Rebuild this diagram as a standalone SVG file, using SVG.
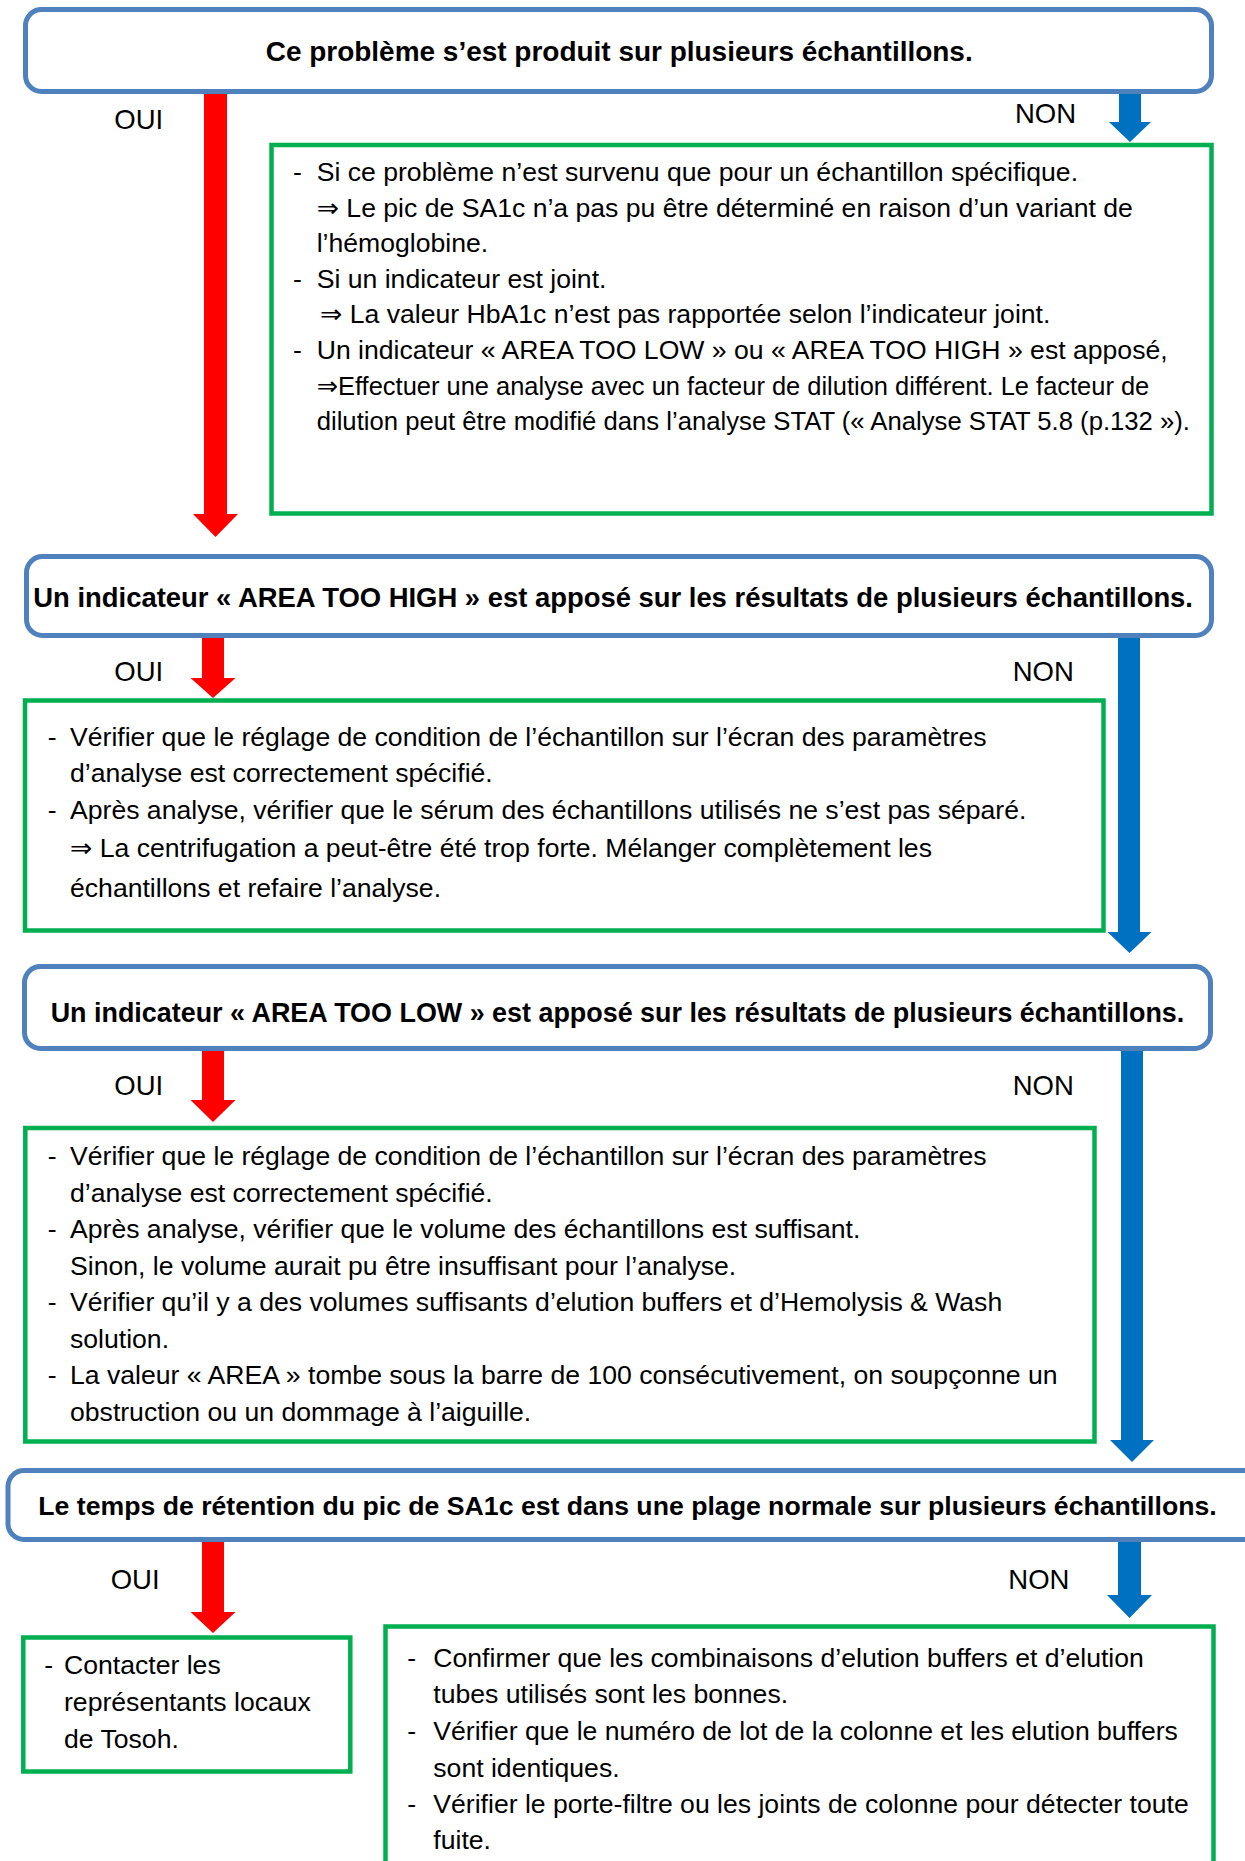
<svg xmlns="http://www.w3.org/2000/svg" width="1245" height="1861" viewBox="0 0 1245 1861">
  <style>
    text { font-family: "Liberation Sans", Arial, "DejaVu Sans", sans-serif; fill: #000; }
    .q { fill: #fff; stroke: #4F81BD; stroke-width: 5; }
    .a { fill: #fff; stroke: #00B050; stroke-width: 4.5; }
    .qt { font-weight: bold; }
    .lb { font-size: 27.5px; }
    .bd { font-size: 26.6px; }
    .yes { fill: #FF0000; }
    .no { fill: #0070C0; }
  </style>

  <rect width="1245" height="1861" fill="#fff"/>

  <!-- decision boxes -->
  <g id="q1">
    <rect class="q" x="25.5" y="9.5" width="1186" height="82" rx="16"/>
    <text class="qt" x="265.7" y="61" font-size="28" textLength="707" lengthAdjust="spacingAndGlyphs">Ce problème s’est produit sur plusieurs échantillons.</text>
  </g>
  <g id="q2">
    <rect class="q" x="26.5" y="556.5" width="1185" height="79" rx="16"/>
    <text class="qt" x="33.3" y="607" font-size="27.4" textLength="1159.7" lengthAdjust="spacingAndGlyphs">Un indicateur « AREA TOO HIGH » est apposé sur les résultats de plusieurs échantillons.</text>
  </g>
  <g id="q3">
    <rect class="q" x="24.5" y="966.5" width="1186" height="82" rx="16"/>
    <text class="qt" x="50.7" y="1022" font-size="26.9" textLength="1133.6" lengthAdjust="spacingAndGlyphs">Un indicateur « AREA TOO LOW » est apposé sur les résultats de plusieurs échantillons.</text>
  </g>
  <g id="q4">
    <rect class="q" x="8" y="1470.5" width="1252" height="69" rx="16"/>
    <text class="qt" x="38.3" y="1515" font-size="26.6" textLength="1178.4" lengthAdjust="spacingAndGlyphs">Le temps de rétention du pic de SA1c est dans une plage normale sur plusieurs échantillons.</text>
  </g>

  <!-- action boxes -->
  <g id="a1">
    <rect class="a" x="271.5" y="145" width="940" height="368.5"/>
    <text class="bd">
      <tspan x="293" y="181">-</tspan><tspan x="316.7" y="181">Si ce problème n’est survenu que pour un échantillon spécifique.</tspan>
      <tspan x="316.7" y="216.6">⇒ Le pic de SA1c n’a pas pu être déterminé en raison d’un variant de</tspan>
      <tspan x="316.7" y="252.2">l’hémoglobine.</tspan>
      <tspan x="293" y="287.8">-</tspan><tspan x="316.7" y="287.8">Si un indicateur est joint.</tspan>
      <tspan x="320" y="323.4">⇒ La valeur HbA1c n’est pas rapportée selon l’indicateur joint.</tspan>
      <tspan x="293" y="359">-</tspan><tspan x="316.7" y="359">Un indicateur « AREA TOO LOW » ou « AREA TOO HIGH » est apposé,</tspan>
    </text>
    <text class="bd" x="316.7" y="394.6" textLength="832.6" lengthAdjust="spacingAndGlyphs">⇒Effectuer une analyse avec un facteur de dilution différent. Le facteur de</text>
    <text class="bd" x="316.7" y="430.2" textLength="873.3" lengthAdjust="spacingAndGlyphs">dilution peut être modifié dans l’analyse STAT (« Analyse STAT 5.8 (p.132 »).</text>
  </g>
  <g id="a2">
    <rect class="a" x="25" y="700.5" width="1078.5" height="230"/>
    <text class="bd">
      <tspan x="47.7" y="746">-</tspan><tspan x="70" y="746">Vérifier que le réglage de condition de l’échantillon sur l’écran des paramètres</tspan>
      <tspan x="70" y="782.3">d’analyse est correctement spécifié.</tspan>
      <tspan x="47.7" y="819">-</tspan><tspan x="70" y="819">Après analyse, vérifier que le sérum des échantillons utilisés ne s’est pas séparé.</tspan>
      <tspan x="70" y="857.3">⇒ La centrifugation a peut-être été trop forte. Mélanger complètement les</tspan>
      <tspan x="70" y="896.7">échantillons et refaire l’analyse.</tspan>
    </text>
  </g>
  <g id="a3">
    <rect class="a" x="25.3" y="1128" width="1069.2" height="313.5"/>
    <text class="bd">
      <tspan x="47.7" y="1165">-</tspan><tspan x="70" y="1165">Vérifier que le réglage de condition de l’échantillon sur l’écran des paramètres</tspan>
      <tspan x="70" y="1201.5">d’analyse est correctement spécifié.</tspan>
      <tspan x="47.7" y="1238">-</tspan><tspan x="70" y="1238">Après analyse, vérifier que le volume des échantillons est suffisant.</tspan>
      <tspan x="70" y="1274.5">Sinon, le volume aurait pu être insuffisant pour l’analyse.</tspan>
      <tspan x="47.7" y="1311">-</tspan><tspan x="70" y="1311">Vérifier qu’il y a des volumes suffisants d’elution buffers et d’Hemolysis &amp; Wash</tspan>
      <tspan x="70" y="1347.5">solution.</tspan>
      <tspan x="47.7" y="1384">-</tspan><tspan x="70" y="1384">La valeur « AREA » tombe sous la barre de 100 consécutivement, on soupçonne un</tspan>
      <tspan x="70" y="1420.5">obstruction ou un dommage à l’aiguille.</tspan>
    </text>
  </g>
  <g id="a4">
    <rect class="a" x="23.3" y="1637.5" width="327" height="134"/>
    <text class="bd">
      <tspan x="44.3" y="1674.3">-</tspan><tspan x="64" y="1674.3">Contacter les</tspan>
      <tspan x="64" y="1711">représentants locaux</tspan>
      <tspan x="64" y="1747.7">de Tosoh.</tspan>
    </text>
  </g>
  <g id="a5">
    <rect class="a" x="385.5" y="1626.5" width="828" height="260"/>
    <text class="bd">
      <tspan x="407.3" y="1666.7">-</tspan><tspan x="433.3" y="1666.7">Confirmer que les combinaisons d’elution buffers et d’elution</tspan>
      <tspan x="433.3" y="1702.7">tubes utilisés sont les bonnes.</tspan>
      <tspan x="407.3" y="1740">-</tspan><tspan x="433.3" y="1740">Vérifier que le numéro de lot de la colonne et les elution buffers</tspan>
      <tspan x="433.3" y="1776.7">sont identiques.</tspan>
      <tspan x="407.3" y="1813.3">-</tspan><tspan x="433.3" y="1813.3">Vérifier le porte-filtre ou les joints de colonne pour détecter toute</tspan>
      <tspan x="433.3" y="1849.3">fuite.</tspan>
    </text>
  </g>

  <!-- connectors: block arrows with their yes/no labels -->
  <g id="connectors">
    <polygon class="yes" points="204,94 227,94 227,514 238,514 215.5,537 193,514 204,514"/>
    <polygon class="no" points="1119,94 1141,94 1141,122 1151,122 1130,142 1109,122 1119,122"/>
    <polygon class="yes" points="202,638 224,638 224,678 235.5,678 213,698 190.5,678 202,678"/>
    <polygon class="no" points="1118,638 1140,638 1140,932 1151.5,932 1129.5,953 1107.5,932 1118,932"/>
    <polygon class="yes" points="202,1051 224,1051 224,1100 235.5,1100 213,1122 190.5,1100 202,1100"/>
    <polygon class="no" points="1121,1051 1143,1051 1143,1440 1154,1440 1132,1462 1110,1440 1121,1440"/>
    <polygon class="yes" points="202,1542 224,1542 224,1612 235.5,1612 213,1633 190.5,1612 202,1612"/>
    <polygon class="no" points="1118,1542 1141,1542 1141,1595 1152,1595 1129.5,1618 1107,1595 1118,1595"/>

    <text class="lb" x="114.3" y="129.3">OUI</text>
    <text class="lb" x="1015" y="122.7">NON</text>
    <text class="lb" x="114.3" y="680.7">OUI</text>
    <text class="lb" x="1012.7" y="680.7">NON</text>
    <text class="lb" x="114.3" y="1095">OUI</text>
    <text class="lb" x="1012.7" y="1095">NON</text>
    <text class="lb" x="110.7" y="1589.3">OUI</text>
    <text class="lb" x="1008.3" y="1589.3">NON</text>
  </g>
</svg>
